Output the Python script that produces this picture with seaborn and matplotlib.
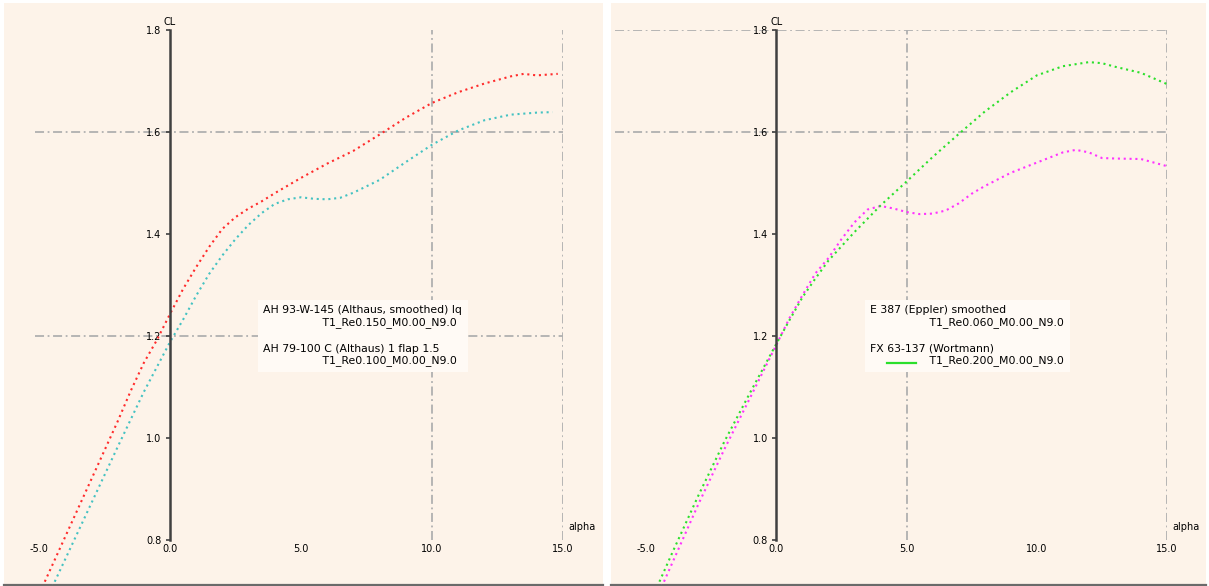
import numpy as np
import matplotlib
matplotlib.use("Agg")
import matplotlib.pyplot as plt
from matplotlib.lines import Line2D
from matplotlib.legend_handler import HandlerBase
import seaborn as sns

# ---------------- data ----------------
left_alpha_red = [-5, -4, -3, -2, -1.5, -1, -0.5, 0, 0.5, 1, 1.5, 2, 2.5, 3, 3.5, 4, 5, 6, 7, 8, 9,
                  10, 11, 12, 13, 13.5, 14, 14.8]
left_cl_red = [0.693, 0.806, 0.919, 1.032, 1.092, 1.147, 1.192, 1.243, 1.292, 1.335, 1.375, 1.41,
               1.433, 1.45, 1.464, 1.48, 1.51, 1.538, 1.563, 1.595, 1.628, 1.657, 1.678, 1.695,
               1.709, 1.714, 1.711, 1.714]

left_alpha_teal = [-5, -4, -3, -2, -1, 0, 0.5, 1, 1.5, 2, 2.5, 3, 3.5, 4, 4.5, 5, 5.5, 6, 6.5, 7,
                   8, 9, 10, 11, 12, 13, 14, 14.6]
left_cl_teal = [0.652, 0.762, 0.872, 0.982, 1.09, 1.188, 1.232, 1.279, 1.322, 1.358, 1.39, 1.418,
                1.441, 1.459, 1.468, 1.472, 1.469, 1.468, 1.471, 1.481, 1.506, 1.541, 1.575,
                1.603, 1.623, 1.634, 1.638, 1.639]

right_alpha_green = [-5, -4, -3, -2, -1, 0, 0.5, 1, 1.5, 2, 3, 4, 5, 6, 7, 8, 9, 10, 11, 12, 12.5,
                     13, 14, 15]
right_cl_green = [0.66, 0.775, 0.887, 0.993, 1.09, 1.185, 1.231, 1.276, 1.313, 1.348, 1.404, 1.456,
                  1.503, 1.551, 1.596, 1.64, 1.678, 1.711, 1.729, 1.737, 1.735, 1.728, 1.716, 1.694]

right_alpha_magenta = [-5, -4, -3, -2, -1, 0, 0.5, 1, 1.5, 2, 2.5, 3, 3.5, 4, 4.5, 5, 5.5, 6, 6.5,
                       7, 7.5, 8, 9, 10, 11, 11.5, 12, 12.5, 13, 14, 15]
right_cl_magenta = [0.64, 0.755, 0.87, 0.978, 1.08, 1.183, 1.235, 1.28, 1.323, 1.353, 1.39, 1.423,
                    1.448, 1.455, 1.45, 1.443, 1.439, 1.44, 1.446, 1.46, 1.479, 1.494, 1.52, 1.54,
                    1.56, 1.565, 1.56, 1.549, 1.548, 1.547, 1.533]

left_labels = ["AH 93-W-145 (Althaus, smoothed) lq\n                 T1_Re0.150_M0.00_N9.0",
               "AH 79-100 C (Althaus) 1 flap 1.5\n                 T1_Re0.100_M0.00_N9.0"]
right_labels = ["E 387 (Eppler) smoothed\n                 T1_Re0.060_M0.00_N9.0",
                "FX 63-137 (Wortmann)\n                 T1_Re0.200_M0.00_N9.0"]

x_ticks = [-5, 0, 5, 10, 15]
x_ticklabels = ["-5.0", "0.0", "5.0", "10.0", "15.0"]
y_ticks = [0.8, 1.0, 1.2, 1.4, 1.6, 1.8]
y_ticklabels = ["0.8", "1.0", "1.2", "1.4", "1.6", "1.8"]

left_hgrid = [1.2, 1.6]
left_vgrid = [10, 15]
right_hgrid = [1.6, 1.8]
right_vgrid = [5, 15]

RED = "#ff2b2b"
TEAL = "#45c2c2"
GREEN = "#2bdf2b"
MAGENTA = "#ff33ff"
BG = "#fdf3e9"
LEGBG = "#fffaf5"

W, H = 1209, 586
fig = plt.figure(figsize=(W / 100, H / 100), dpi=100, facecolor="white")


def fx(px):
    return px / W


def fy(py):
    return 1 - py / H


class OffsetLine(HandlerBase):
    def create_artists(self, legend, orig_handle, xdescent, ydescent, width, height, fontsize, trans):
        x0 = 1.5 * fontsize
        x1 = x0 + 2.7 * fontsize
        y = (height - ydescent) / 2 - 0.75 * fontsize
        ln = Line2D([x0, x1], [y, y], color=orig_handle.get_color(),
                    lw=orig_handle.get_linewidth())
        ln.set_transform(trans)
        return [ln]


def panel(bg_box, ax_box, xlim, series, hgrid, vgrid, labels, show_handles, leg_xy):
    bg = fig.add_axes(bg_box)
    bg.set_facecolor(BG)
    bg.set_xticks([])
    bg.set_yticks([])
    for s in ["top", "left", "right"]:
        bg.spines[s].set_visible(False)
    bg.spines["bottom"].set_color("#6a6a6a")
    bg.spines["bottom"].set_linewidth(1.6)

    ax = fig.add_axes(ax_box)
    ax.patch.set_alpha(0)
    ax.set_xlim(*xlim)
    ax.set_ylim(0.8, 1.8)

    handles = []
    for xs, ys, c in series:
        sns.lineplot(x=xs, y=ys, ax=ax, color=c, lw=1.5, sort=False, clip_on=True)
        ln = ax.lines[-1]
        ln.set_linestyle((0, (1, 1.8)))
        ln.set_clip_path(bg.patch)
        handles.append(ln)

    for g in hgrid:
        ax.axhline(g, color="#b0b0b0", lw=1.3, ls=(0, (5, 2, 1, 2)), zorder=0)
    for g in vgrid:
        ax.axvline(g, color="#b0b0b0", lw=1.3, ls=(0, (5, 2, 1, 2)), zorder=0)

    for s in ["top", "right"]:
        ax.spines[s].set_visible(False)
    ax.spines["bottom"].set_color("none")
    ax.spines["left"].set_position(("data", 0))
    ax.spines["left"].set_color("#404040")
    ax.spines["left"].set_linewidth(1.8)

    ax.set_xticks(x_ticks)
    ax.set_xticklabels(x_ticklabels)
    ax.set_yticks(y_ticks)
    ax.set_yticklabels(y_ticklabels)
    ax.tick_params(axis="x", length=0, pad=3, labelsize=7)
    ax.tick_params(axis="y", length=3, width=1.2, pad=3, labelsize=7, color="#404040")

    ax.set_xlabel("alpha", fontsize=7, ha="left", va="center")
    ax.xaxis.set_label_coords(1.01, 0.026)
    ax.set_ylabel("CL", fontsize=7, rotation=0, ha="center", va="bottom")
    ax.yaxis.set_label_coords((0 - xlim[0]) / (xlim[1] - xlim[0]), 1.005)

    leg_handles = []
    for h, show in zip(handles, show_handles):
        leg_handles.append(Line2D([], [], color=h.get_color() if show else "none", lw=1.6))
    leg = ax.legend(leg_handles, labels, loc="upper left",
                    bbox_to_anchor=leg_xy, bbox_transform=fig.transFigure,
                    handler_map={Line2D: OffsetLine()},
                    handlelength=0, handletextpad=0, fontsize=7.8,
                    labelspacing=1.45, borderpad=0.5, borderaxespad=0,
                    frameon=True, fancybox=False, framealpha=1)
    leg.get_frame().set_facecolor(LEGBG)
    leg.get_frame().set_edgecolor("none")
    leg.set_zorder(5)
    return ax


left_bg = [fx(4), fy(585), fx(603) - fx(4), fy(3) - fy(585)]
right_bg = [fx(611), fy(585), fx(1206) - fx(611), fy(3) - fy(585)]
left_ax = [fx(35), fy(540), fx(563) - fx(35), fy(30) - fy(540)]
right_ax = [fx(615), fy(540), fx(1167) - fx(615), fy(30) - fy(540)]

panel(left_bg, left_ax, (-5.15, 15.0),
      [(left_alpha_red, left_cl_red, RED), (left_alpha_teal, left_cl_teal, TEAL)],
      left_hgrid, left_vgrid, left_labels, [False, False], (fx(258), fy(300)))

panel(right_bg, right_ax, (-6.2, 15.0),
      [(right_alpha_magenta, right_cl_magenta, MAGENTA), (right_alpha_green, right_cl_green, GREEN)],
      right_hgrid, right_vgrid, right_labels, [False, True], (fx(865), fy(300)))

fig.savefig("out.png", dpi=100, facecolor="white")
